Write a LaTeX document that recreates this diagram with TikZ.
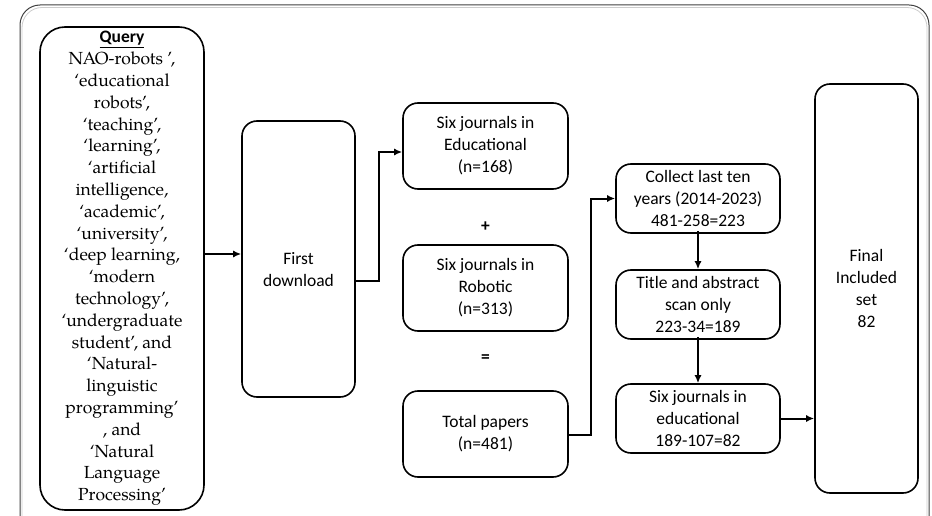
\documentclass[tikz,border=0pt]{standalone}
\usepackage{fontspec}
\setmainfont{Carlito}
\newfontfamily\queryfont{TeX Gyre Pagella}
\newfontfamily\calfont{Carlito}
\usetikzlibrary{arrows.meta}

\begin{document}
\begin{tikzpicture}[x=1pt,y=-1pt,
    box/.style={draw, line width=1.6pt, rounded corners=15pt, align=center,
      inner sep=0pt, font=\fontsize{17.5}{22}\selectfont},
    sign/.style={font=\fontsize{17.5}{22}\selectfont\bfseries},
    link/.style={-{Latex[length=8pt,width=7pt]}, line width=2pt}]
      \useasboundingbox (0,0) rectangle (932,516);
      % outer frame, cut at the bottom
      \begin{scope}
        \clip (0,0) rectangle (932,516);
        \draw [gray!40, line width=0.8pt, rounded corners=20pt] (22,7.5) rectangle (927,545);
        \draw [black!75, line width=1pt, rounded corners=20pt] (20,5) rectangle (929,545);
      \end{scope}
      % boxes
      \node [box, rounded corners=25pt, minimum width=164pt, minimum height=483pt,
        font=\queryfont\fontsize{17.5}{21.8}\selectfont] (query) at (122,268.5)
        {\calfont\bfseries\underline{Query}\\
         NAO-robots ’,\\ ‘educational\\ robots’,\\
         ‘teaching’,\\ ‘learning’,\\ ‘artificial\\ intelligence,\\ ‘academic’,\\
         ‘university’,\\ ‘deep learning,\\ ‘modern\\ technology’,\\ ‘undergraduate\\
         student’, and\\ ‘Natural-\\ linguistic\\ programming’\\ , and\\ ‘Natural\\
         Language\\ Processing’};
      \node [box, minimum width=113pt, minimum height=276pt] (first) at (298.5,259) {};
      \node [font=\fontsize{17.5}{22}\selectfont, align=center] (firsttxt) at (298.5,270) {First\\download};
      \node [box, minimum width=165pt, minimum height=86pt] (edu) at (485.5,146) {Six journals in\\Educational\\(n=168)};
      \node [sign] (plus) at (485.5,227) {+};
      \node [box, minimum width=165pt, minimum height=86pt] (rob) at (485.5,288) {Six journals in\\Robotic\\(n=313)};
      \node [sign] (eq) at (485.5,359) {=};
      \node [box, minimum width=165pt, minimum height=86pt] (tot) at (485.5,434) {Total papers\\(n=481)};
      \node [box, minimum width=164pt, minimum height=69pt] (col) at (698,198.5) {Collect last ten\\years (2014-2023)\\481-258=223};
      \node [box, minimum width=164pt, minimum height=69pt] (tit) at (698,304.5) {Title and abstract\\scan only\\223-34=189};
      \node [box, minimum width=164pt, minimum height=69pt] (six) at (698,418.5) {Six journals in\\educational\\189-107=82};
      \node [box, minimum width=103pt, minimum height=409pt] (fin) at (866.5,288.5) {Final\\Included\\set\\82};
      % connectors
      \draw [link] (query.east |- 0,254) -- (first.west |- 0,254);
      \draw [link] (first.east |- 0,281) -- (379,281) |- (edu.west |- 0,152);
      \draw [link] (tot.east |- 0,435) -- (591,435) |- (col.west);
      \draw [link] ([yshift=3pt]col.south) -- (tit.north);
      \draw [link] ([yshift=3pt]tit.south) -- (six.north);
      \draw [link] (six.east) -- (fin.west |- six.east);
    \end{tikzpicture}
\end{document}
